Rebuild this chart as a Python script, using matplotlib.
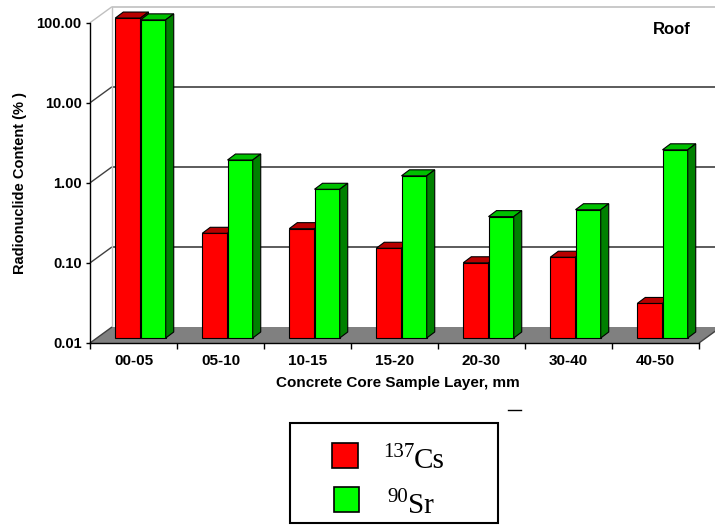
import matplotlib
matplotlib.use("Agg")
import matplotlib.pyplot as plt
import numpy as np
from matplotlib.patches import Polygon, Rectangle
from matplotlib.transforms import IdentityTransform, offset_copy

plt.rcParams["font.family"] = ["Liberation Sans", "DejaVu Sans"]

# data (percent, log scale)
layers = ["00-05", "05-10", "10-15", "15-20", "20-30", "30-40", "40-50"]
cs137 = [99.0, 0.203, 0.232, 0.132, 0.087, 0.102, 0.027]
sr90 = [94.0, 1.67, 0.72, 1.06, 0.328, 0.40, 2.24]
y_ticks = [0.01, 0.1, 1, 10, 100]

W, H = 715, 525
fig = plt.figure(figsize=(W / 100, H / 100), dpi=100)
ax = fig.add_axes([90 / W, (H - 343) / H, 609 / W, (343 - 22.7) / H])
ax.set_yscale("log")
ax.set_ylim(0.01, 100)
ax.set_xlim(0, len(layers))
ax.patch.set_visible(False)
for s in ("top", "right"):
    ax.spines[s].set_visible(False)
for s in ("left", "bottom"):
    ax.spines[s].set_color("black")
    ax.spines[s].set_linewidth(1.0)
    ax.spines[s].set_zorder(6)

ID = IdentityTransform()
WALL = np.array([22.0, 16.0])   # depth of the floor / back wall, px
BAR_OFF = np.array([7.0, 5.0])  # bars sit a bit behind the front plane
BAR_D = np.array([8.0, 6.0])    # depth of each bar
bw = 0.29


def disp(x, y, off=(0.0, 0.0)):
    return ax.transData.transform((x, y)) + np.asarray(off)


def seg(p, q, color, lw=1.0, z=1):
    ax.plot([p[0], q[0]], [p[1], q[1]], color=color, lw=lw, transform=ID,
            clip_on=False, zorder=z, solid_capstyle="butt")


n = len(layers)
# floor
floor = [disp(0, 0.01), disp(n, 0.01), disp(n, 0.01, WALL), disp(0, 0.01, WALL)]
ax.add_patch(Polygon(floor, closed=True, facecolor="#808080", edgecolor="none",
                     transform=ID, clip_on=False, zorder=2))

# back wall gridlines, left wall diagonals
for v in y_ticks[1:]:
    col = "#c0c0c0" if v == 100 else "#404040"
    seg(disp(0, v, WALL), disp(n, v, WALL), col, 1.2)
    seg(disp(0, v), disp(0, v, WALL), col, 1.0)
seg(disp(0, 0.01), disp(0, 0.01, WALL), "#404040", 1.0, 3)
seg(disp(n, 0.01), disp(n, 0.01, WALL), "#404040", 1.0, 3)
seg(disp(0, 0.01, WALL), disp(0, 100, WALL), "#c0c0c0", 1.0)

# 3-D bars
bar_tr = offset_copy(ax.transData, fig=fig, x=BAR_OFF[0], y=BAR_OFF[1], units="dots")
x = np.arange(n) + 0.5
series = [
    (cs137, x - bw, "#ff0000", "#b80000", "#800000"),
    (sr90, x, "#00ff00", "#00c000", "#008000"),
]
for i in range(n):
    for vals, xs, front, top, side in series:
        v = vals[i]
        xl, xr = xs[i], xs[i] + bw
        z = 4
        ax.bar(xl, v - 0.01, bw, bottom=0.01, align="edge", color=front,
               edgecolor="black", linewidth=0.8, transform=bar_tr, clip_on=False,
               zorder=z)
        p_tl, p_tr = disp(xl, v, BAR_OFF), disp(xr, v, BAR_OFF)
        p_br = disp(xr, 0.01, BAR_OFF)
        ax.add_patch(Polygon([p_tl, p_tr, p_tr + BAR_D, p_tl + BAR_D], facecolor=top,
                             edgecolor="black", linewidth=0.8, transform=ID,
                             clip_on=False, zorder=z))
        ax.add_patch(Polygon([p_br, p_tr, p_tr + BAR_D, p_br + BAR_D], facecolor=side,
                             edgecolor="black", linewidth=0.8, transform=ID,
                             clip_on=False, zorder=z))

# axes ticks and labels
ax.set_yticks(y_ticks)
ax.set_yticklabels([f"{v:.2f}" for v in y_ticks], fontsize=10.5, fontweight="bold")
ax.yaxis.set_minor_locator(matplotlib.ticker.NullLocator())
ax.tick_params(axis="y", which="major", direction="out", length=3, pad=3, width=1)
ax.set_xticks(np.arange(n + 1))
ax.set_xticklabels([])
ax.set_xticks(x, minor=True)
ax.set_xticklabels(layers, minor=True, fontsize=11, fontweight="bold")
ax.tick_params(axis="x", which="major", direction="out", length=4, width=1)
ax.tick_params(axis="x", which="minor", length=0, pad=8)

ax.set_xlabel("Concrete Core Sample Layer, mm", fontsize=11, fontweight="bold")
ax.xaxis.set_label_coords(0.505, -0.104)
ax.set_ylabel("Radionuclide Content (% )", fontsize=10.5, fontweight="bold")
ax.yaxis.set_label_coords(-0.103, 0.5)

fig.text(672, H - 29, "Roof", transform=ID, ha="center", va="center",
         fontsize=12, fontweight="bold")

# legend box
fig.patches.append(Rectangle((290, H - 523), 208, 100, transform=ID, facecolor="white",
                             edgecolor="black", linewidth=1.5))
fig.patches.append(Rectangle((332, H - 468), 26, 25, transform=ID, facecolor="#ff0000",
                             edgecolor="black", linewidth=1.2))
fig.patches.append(Rectangle((334, H - 512), 25, 25, transform=ID, facecolor="#00ff00",
                             edgecolor="black", linewidth=1.2))
serif = ["Liberation Serif", "DejaVu Serif"]
fig.text(383, H - 457, "137", transform=ID, family=serif, fontsize=15, va="baseline")
fig.text(414, H - 468, "Cs", transform=ID, family=serif, fontsize=21, va="baseline")
fig.text(387, H - 502, "90", transform=ID, family=serif, fontsize=15, va="baseline")
fig.text(408, H - 513, "Sr", transform=ID, family=serif, fontsize=21, va="baseline")
fig.lines.append(matplotlib.lines.Line2D([508, 521], [H - 410, H - 410], transform=ID,
                                         color="black", linewidth=1.0))

fig.savefig("out.png", dpi=100)
